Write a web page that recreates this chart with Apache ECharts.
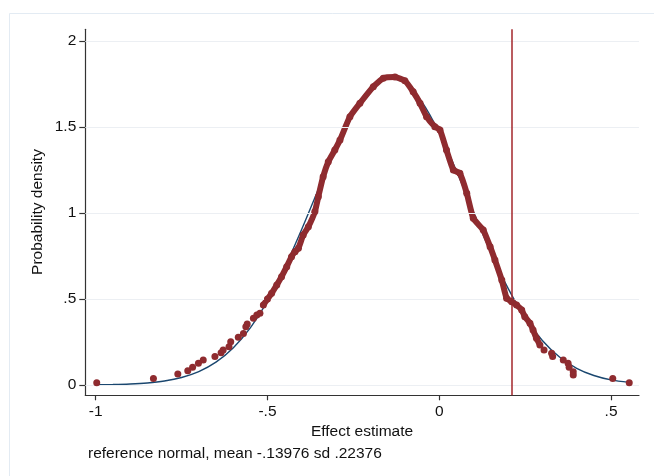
<!DOCTYPE html>
<html>
<head>
<meta charset="utf-8">
<script src="https://cdn.jsdelivr.net/npm/echarts@6/dist/echarts.min.js"></script>
<style>
html,body{margin:0;padding:0;background:#ffffff;}
#chart{width:654px;height:476px;}
</style>
</head>
<body>
<div id="chart"></div>
<script>
// ---- data ----
// kernel density estimate points (x, density)
var kdX = [-0.997,-0.832,-0.761,-0.732,-0.718,-0.701,-0.687,-0.653,-0.635,-0.629,-0.612,-0.607,-0.585,-0.570,-0.563,-0.559,-0.541,-0.531,-0.522,
  -0.512,-0.500,-0.488,-0.473,-0.459,-0.444,-0.430,-0.420,-0.410,-0.396,-0.381,-0.362,-0.352,-0.338,-0.323,-0.304,-0.289,-0.260,-0.231,-0.192,-0.163,-0.129,-0.100,-0.076,-0.056,-0.037,-0.013,0.002,0.021,0.041,0.060,0.080,0.099,0.128,0.148,0.162,0.182,0.196,0.211,0.225,0.240,0.249,0.264,0.273,0.283,0.293,
  0.305,0.327,0.330,0.361,0.375,0.378,0.390,0.390,0.505,0.553];
var kdY = [0.013,0.037,0.064,0.083,0.103,0.126,0.145,0.165,0.188,0.203,0.223,0.252,0.277,0.300,0.339,0.355,0.388,0.407,0.417,
  0.465,0.500,0.533,0.581,0.630,0.688,0.746,0.775,0.795,0.872,0.920,1.008,1.095,1.211,1.298,1.366,1.424,1.560,1.638,1.734,1.783,1.790,1.769,1.705,1.638,1.560,1.502,1.483,1.366,1.250,1.231,1.115,0.969,0.901,0.804,0.727,0.610,0.504,0.484,0.465,0.436,0.397,0.359,0.320,0.271,0.233,
  0.203,0.184,0.165,0.145,0.126,0.103,0.077,0.058,0.037,0.013];
// index range of the dense (continuous) part of the estimate
var coreStart = 19, coreEnd = 64;

// reference normal curve (mean -.13976, sd .22376)
var normX = [-1.00,-0.95,-0.90,-0.85,-0.80,-0.75,-0.70,-0.65,-0.60,-0.55,-0.50,-0.45,-0.40,-0.35,-0.30,-0.25,-0.20,-0.15,-0.10,-0.05,0.00,0.05,0.10,0.15,0.20,0.25,0.30,0.35,0.40,0.45,0.50,0.553];
var normY = [0.0011,0.0025,0.0056,0.0116,0.0229,0.0433,0.0776,0.1325,0.2150,0.3321,0.4879,0.6818,0.9066,1.1467,1.3797,1.5791,1.7194,1.7810,1.7550,1.6451,1.4669,1.2444,1.0042,0.7709,0.5630,0.3911,0.2585,0.1625,0.0972,0.0553,0.0299,0.0150];

var refLineX = 0.209;
var xTicks = [-1, -0.5, 0, 0.5];
var yTicks = [0, 0.5, 1, 1.5, 2];
var xTitle = 'Effect estimate';
var yTitle = 'Probability density';
var noteText = 'reference normal, mean -.13976 sd .22376';

// ---- build ----
function fmt(v){
  var s = String(Math.round(v*100)/100);
  return s.replace(/^(-?)0\./, '$1.');
}
var allPts = kdX.map(function(x,i){return [x, kdY[i]];});
var corePts = allPts.slice(coreStart, coreEnd+1);
var normPts = normX.map(function(x,i){return [x, normY[i]];});

var RED = '#8f2b2f';
var BLUE = '#1a476f';
var FONT = '"Liberation Sans", Arial, Helvetica, sans-serif';
var FS = 15.5;

var chart = echarts.init(document.getElementById('chart'), null, {renderer:'canvas'});
chart.setOption({
  animation:false,
  backgroundColor:'#ffffff',
  textStyle:{fontFamily:FONT},
  graphic:[
    {type:'rect', z:-10, shape:{x:9.5,y:13.5,width:700,height:500},
     style:{fill:'#ffffff', stroke:'#e3ebf3', lineWidth:1}},
    {type:'text', style:{text:yTitle, font:FS+'px '+FONT, fill:'#111', textAlign:'center', textVerticalAlign:'middle'},
     x:38, y:212, rotation:Math.PI/2},
    {type:'text', style:{text:xTitle, font:FS+'px '+FONT, fill:'#111', textAlign:'center', textVerticalAlign:'middle'},
     x:362, y:432},
    {type:'text', style:{text:noteText, font:FS+'px '+FONT, fill:'#111', textAlign:'left', textVerticalAlign:'middle'},
     x:88, y:454}
  ],
  grid:{left:85.3, right:15, top:29.3, bottom:80.7, containLabel:false},
  xAxis:{
    type:'value', min:-1.0303, max:0.5814,
    axisLine:{show:true, onZero:false, lineStyle:{color:'#333', width:1.2}},
    axisTick:{show:true, length:5, customValues:xTicks, lineStyle:{color:'#333', width:1.2}},
    axisLabel:{customValues:xTicks, formatter:fmt, margin:8, fontSize:FS, color:'#111', fontFamily:FONT},
    splitLine:{show:false}
  },
  yAxis:{
    type:'value', min:-0.060, max:2.068,
    axisLine:{show:true, onZero:false, lineStyle:{color:'#333', width:1.2}},
    axisTick:{show:true, length:6, customValues:yTicks, lineStyle:{color:'#333', width:1.2}},
    axisLabel:{customValues:yTicks, formatter:fmt, margin:9, fontSize:FS, color:'#111', fontFamily:FONT},
    splitLine:{show:false}
  },
  series:[
    {type:'line', data:[], silent:true,
     markLine:{silent:true, symbol:['none','none'], label:{show:false},
       lineStyle:{color:'#eceff3', width:1.2, type:'solid'},
       data:yTicks.map(function(v){return {yAxis:v};})}},
    {type:'line', data:normPts, smooth:0.3, showSymbol:false, z:3,
     lineStyle:{color:BLUE, width:1.4}},
    {type:'line', data:corePts, showSymbol:false, z:4, smooth:0.15,
     lineStyle:{color:RED, width:6, cap:'round', join:'round'}},
    {type:'scatter', data:allPts, symbol:'circle', symbolSize:7, z:5,
     itemStyle:{color:RED, opacity:1}},
    {type:'line', data:[], silent:true, z:6,
     markLine:{silent:true, symbol:['none','none'], label:{show:false},
       lineStyle:{color:'#a3262b', width:1.5, type:'solid'},
       data:[{xAxis:refLineX}]}}
  ]
});
</script>
</body>
</html>
